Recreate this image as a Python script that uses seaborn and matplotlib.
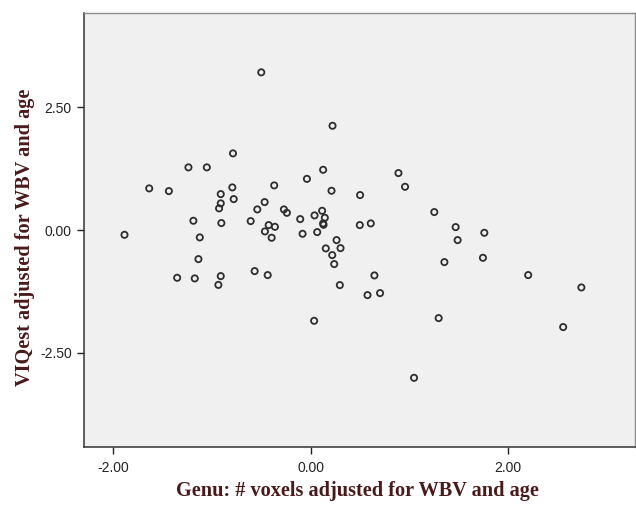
"""
Scatter of VIQest vs Genu voxel count, both adjusted for WBV and age.
"""

import pandas as pd
import matplotlib
matplotlib.use("Agg")
import matplotlib.pyplot as plt
import seaborn as sns

# values
genu_voxels = [
    -1.883, -1.633, -1.434, -1.350, -1.236, -1.186, -1.172, -1.135, -1.121, -1.050,
    -0.933, -0.926, -0.909, -0.909, -0.909, -0.903, -0.792, -0.785, -0.778, -0.606,
    -0.566, -0.539, -0.499, -0.465, -0.462, -0.434, -0.424, -0.394, -0.368, -0.361,
    -0.270, -0.240, -0.105, -0.081, -0.037, 0.036, 0.040, 0.067, 0.117, 0.127,
    0.127, 0.131, 0.144, 0.154, 0.222, 0.212, 0.219, 0.239, 0.263, 0.296,
    0.303, 0.498, 0.501, 0.576, 0.609, 0.646, 0.703, 0.889, 0.956, 1.047,
    1.252, 1.296, 1.354, 1.468, 1.488, 1.744, 1.758, 2.202, 2.556, 2.740,
]
viqest = [
    -0.096, 0.849, 0.794, -0.971, 1.277, 0.190, -0.984, -0.591, -0.149, 1.277,
    -1.116, 0.442, 0.733, 0.544, -0.937, 0.143, 0.869, 1.562, 0.631, 0.183,
    -0.835, 0.421, 3.212, 0.570, -0.027, -0.916, 0.102, -0.156, 0.910, 0.067,
    0.421, 0.352, 0.224, -0.075, 1.043, -1.847, 0.299, -0.041, 0.393, 1.228,
    0.136, 0.108, 0.251, -0.373, 2.124, 0.801, -0.509, -0.692, -0.204, -1.120,
    -0.367, 0.102, 0.713, -1.324, 0.136, -0.923, -1.283, 1.161, 0.882, -3.008,
    0.367, -1.792, -0.652, 0.061, -0.204, -0.564, -0.055, -0.916, -1.975, -1.168,
]

x_ticks = [-2.0, 0.0, 2.0]
y_ticks = [-2.5, 0.0, 2.5]

sns.set_style("white")
plt.rcParams['font.family'] = ['Liberation Sans', 'DejaVu Sans']

df = pd.DataFrame({'genu': genu_voxels, 'viqest': viqest})

fig = plt.figure(figsize=(6.36, 5.05), dpi=100)
ax = fig.add_axes([0.1325, 0.1155, 0.8655, 0.8597])
ax.set_facecolor('#f0f0f0')

sns.scatterplot(data=df, x='genu', y='viqest', ax=ax,
                marker='o', s=20, facecolor='none',
                edgecolor='#2e2e2e', linewidth=1.3)

ax.set_xlim(-2.29, 3.28)
ax.set_ylim(-4.41, 4.43)
ax.set_xticks(x_ticks)
ax.set_yticks(y_ticks)
ax.set_xticklabels([f'{t:.2f}' for t in x_ticks])
ax.set_yticklabels([f'{t:.2f}' for t in y_ticks])
ax.tick_params(axis='both', direction='out', length=5, width=1.0,
               color='#222222', labelsize=10, labelcolor='#222222',
               bottom=True, left=True)
ax.tick_params(axis='x', pad=5)
ax.tick_params(axis='y', pad=4)

for side in ['left', 'bottom']:
    ax.spines[side].set_color('#333333')
    ax.spines[side].set_linewidth(1.1)
for side in ['top', 'right']:
    ax.spines[side].set_color('#8a8a8a')
    ax.spines[side].set_linewidth(1.0)

label_color = '#4a1a1a'
ax.set_xlabel('Genu: # voxels adjusted for WBV and age', family='Liberation Serif',
              fontweight='bold', fontsize=14.6, color=label_color)
ax.set_ylabel('VIQest adjusted for WBV and age', family='Liberation Serif',
              fontweight='bold', fontsize=14.6, color=label_color)
ax.xaxis.set_label_coords(0.4955, -0.079)
ax.yaxis.set_label_coords(-0.09, 0.483)

plt.savefig('out.png', dpi=100)
plt.close()
